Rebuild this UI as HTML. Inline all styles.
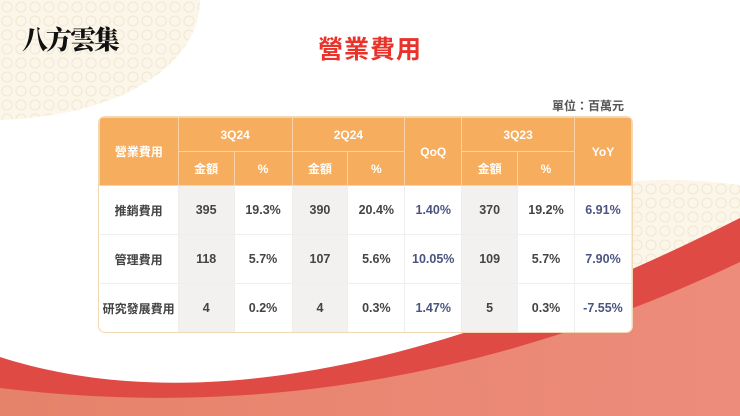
<!DOCTYPE html>
<html><head><meta charset="utf-8"><style>
body{margin:0;width:740px;height:416px;overflow:hidden;background:#fff;position:relative;font-family:"Liberation Sans","Noto Sans CJK TC",sans-serif;}
svg.bg{position:absolute;left:0;top:0}
.title{position:absolute;left:0;width:740px;top:30px;text-align:center;color:#e8322a;font-size:25px;font-weight:bold;letter-spacing:1px}
.unit{position:absolute;left:552px;top:97px;font-size:12px;color:#555;font-weight:bold}
.logo{position:absolute;left:22px;top:20px;font-size:26px;font-weight:900;color:#111;font-family:"Noto Serif CJK SC",serif;letter-spacing:-2px}
table{position:absolute;left:99px;top:117px;border-collapse:collapse;width:533px;background:#fff;border-radius:6px;overflow:hidden;box-shadow:0 0 0 1px #f2d9b5;font-weight:bold;font-size:12.5px}
th{background:#f6ad5e;color:#fff;font-weight:bold;border:1px solid #fbd2a5;height:33px;padding:0;font-size:12px}
td{text-align:center;height:48px;padding:0;color:#444;border-bottom:1px solid #eee;border-right:1px solid #eee}
td.g{background:#f2f1f0}
td.b{color:#4b5480}
td.l{font-size:12px}
</style></head><body>
<svg class="bg" width="740" height="416">
<defs><pattern id="p" width="14" height="14" patternUnits="userSpaceOnUse"><rect width="14" height="14" fill="#fbf6e9"/><circle cx="7" cy="7" r="5" fill="none" stroke="#f1e8d2" stroke-width="1"/></pattern>
<linearGradient id="s" x1="0" x2="1"><stop offset="0" stop-color="#e4826a"/><stop offset="1" stop-color="#ee8c7c"/></linearGradient></defs>
<path d="M0,0 H200 C200,60 130,115 0,120 Z" fill="url(#p)"/>
<ellipse cx="670" cy="290" rx="230" ry="110" fill="url(#p)"/>
<path d="M0,357 C150,405 380,400 740,218 V416 H0 Z" fill="#e04a44"/>
<path d="M0,388 C200,412 450,400 740,262 V416 H0 Z" fill="url(#s)"/>
</svg>
<div class="logo">八方雲集</div>
<div class="title">營業費用</div>
<div class="unit">單位：百萬元</div>
<table>
<colgroup><col style="width:79px"><col style="width:56px"><col style="width:58px"><col style="width:56px"><col style="width:57px"><col style="width:57px"><col style="width:56px"><col style="width:57px"><col style="width:57px"></colgroup>
<tr><th rowspan="2">營業費用</th><th colspan="2">3Q24</th><th colspan="2">2Q24</th><th rowspan="2">QoQ</th><th colspan="2">3Q23</th><th rowspan="2">YoY</th></tr>
<tr><th>金額</th><th>%</th><th>金額</th><th>%</th><th>金額</th><th>%</th></tr>
<tr><td class="l">推銷費用</td><td class="g">395</td><td>19.3%</td><td class="g">390</td><td>20.4%</td><td class="b">1.40%</td><td class="g">370</td><td>19.2%</td><td class="b">6.91%</td></tr>
<tr><td class="l">管理費用</td><td class="g">118</td><td>5.7%</td><td class="g">107</td><td>5.6%</td><td class="b">10.05%</td><td class="g">109</td><td>5.7%</td><td class="b">7.90%</td></tr>
<tr><td class="l" style="border-bottom:none">研究發展費用</td><td class="g" style="border-bottom:none">4</td><td style="border-bottom:none">0.2%</td><td class="g" style="border-bottom:none">4</td><td style="border-bottom:none">0.3%</td><td class="b" style="border-bottom:none">1.47%</td><td class="g" style="border-bottom:none">5</td><td style="border-bottom:none">0.3%</td><td class="b" style="border-bottom:none">-7.55%</td></tr>
</table>
</body></html>
